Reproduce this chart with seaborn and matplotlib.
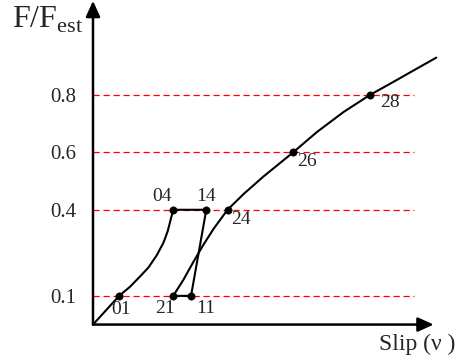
import numpy as np
import pandas as pd
import matplotlib
matplotlib.use("Agg")
import matplotlib.pyplot as plt
import seaborn as sns

# values (slip in arbitrary units, force ratio F/Fest)
curve_a_x = [0.0, 0.091, 0.129, 0.164, 0.193, 0.222, 0.245, 0.260, 0.271, 0.279]
curve_a_y = [0.0, 0.100, 0.132, 0.168, 0.199, 0.242, 0.285, 0.326, 0.369, 0.400]
curve_b_x = [0.279, 0.315, 0.349, 0.384, 0.419, 0.468, 0.524, 0.593, 0.652, 0.696,
             0.779, 0.872, 0.963, 1.035, 1.116, 1.194]
curve_b_y = [0.100, 0.157, 0.218, 0.278, 0.333, 0.400, 0.455, 0.516, 0.564, 0.600,
             0.671, 0.741, 0.800, 0.840, 0.886, 0.930]
loop_x = [0.279, 0.394, 0.341, 0.279]   # 04 -> 14 -> 11 -> 21
loop_y = [0.400, 0.400, 0.100, 0.100]

point_names = ["01", "04", "14", "24", "21", "11", "26", "28"]
point_x = [0.091, 0.279, 0.394, 0.468, 0.279, 0.341, 0.696, 0.963]
point_y = [0.1, 0.4, 0.4, 0.4, 0.1, 0.1, 0.6, 0.8]
level_ticks = [0.1, 0.4, 0.6, 0.8]

# label offsets in pixels from each point
label_offsets = {"01": (2, -14), "04": (-11, 13), "14": (0, 13), "24": (13, -10),
                 "21": (-8, -13), "11": (15, -13), "26": (14, -9), "28": (20, -8)}

sns.set_style("white")
plt.rcParams["font.family"] = ["Liberation Serif", "DejaVu Serif"]
plt.rcParams["mathtext.fontset"] = "custom"
plt.rcParams["mathtext.rm"] = "Liberation Serif"

fig = plt.figure(figsize=(4.59, 3.63), dpi=100)
ax = fig.add_axes([93 / 459, 1 - 326 / 363, 345 / 459, 320 / 363])
ax.set_xlim(0, 1.2)
ax.set_ylim(-0.005, 1.11)

for y in level_ticks:
    ax.plot([0, 1.115], [y, y], color="red", linestyle=(0, (5, 3)), linewidth=0.9, zorder=1)

df_a = pd.DataFrame({"x": curve_a_x, "y": curve_a_y})
df_b = pd.DataFrame({"x": curve_b_x, "y": curve_b_y})
df_l = pd.DataFrame({"x": loop_x, "y": loop_y})
for d in (df_a, df_b, df_l):
    sns.lineplot(data=d, x="x", y="y", sort=False, estimator=None, color="black",
                 linewidth=1.5, ax=ax, clip_on=False, zorder=3)

sns.scatterplot(x=point_x, y=point_y, color="black", s=28, edgecolor="black",
                ax=ax, zorder=4, clip_on=False)

for name, px, py in zip(point_names, point_x, point_y):
    dx, dy = label_offsets[name]
    ax.annotate(name, (px, py), xytext=(dx, dy), textcoords="offset pixels",
                ha="center", va="center", fontsize=14)

# axes drawn as arrows
arrow = dict(arrowstyle="-|>,head_length=0.95,head_width=0.43", color="black",
             linewidth=1.8, mutation_scale=10, shrinkA=0, shrinkB=0)
ax.annotate("", xy=(1.185, 0), xytext=(0, 0), xycoords="data", arrowprops=arrow,
            annotation_clip=False)
ax.annotate("", xy=(0, 1.128), xytext=(0, 0), xycoords="data", arrowprops=arrow,
            annotation_clip=False)

for s in ax.spines.values():
    s.set_visible(False)
ax.set_xticks([])
ax.set_yticks(level_ticks)
ax.set_yticklabels([str(t) for t in level_ticks], fontsize=15)
ax.tick_params(axis="y", length=0, pad=12)
ax.set_xlabel("")
ax.set_ylabel("")

fig.text(12 / 459, 1 - 28 / 363, r"F/F$_{\mathrm{est}}$", fontsize=23, ha="left", va="baseline")
fig.text(417 / 459, 1 - 344 / 363, "Slip (\u03bd )", fontsize=17, ha="center", va="center")

fig.savefig("out.png", dpi=100)
